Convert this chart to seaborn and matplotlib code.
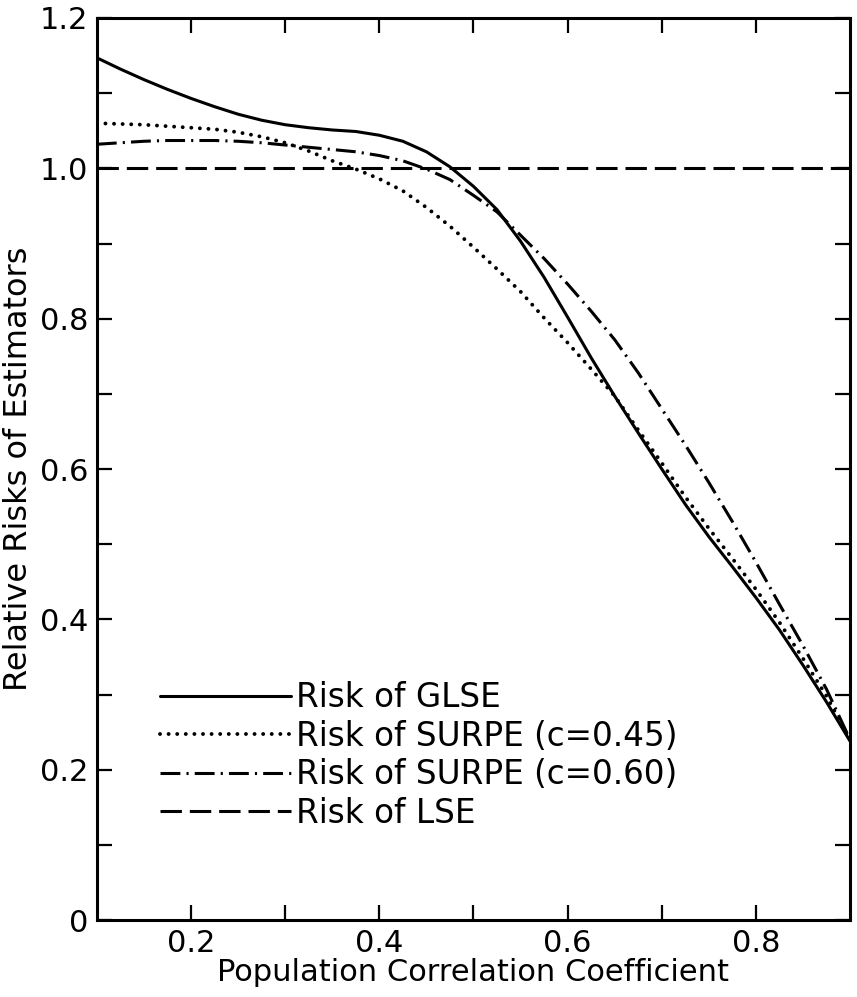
import matplotlib
matplotlib.use("Agg")
import matplotlib.pyplot as plt
import seaborn as sns
import pandas as pd
from matplotlib.ticker import MultipleLocator, FixedLocator, FuncFormatter

# Data
rho = [0.100, 0.125, 0.150, 0.175, 0.200, 0.225, 0.250, 0.275, 0.300, 0.325,
       0.350, 0.375, 0.400, 0.425, 0.450, 0.475, 0.500, 0.525, 0.550, 0.575,
       0.600, 0.625, 0.650, 0.675, 0.700, 0.725, 0.750, 0.775, 0.800, 0.825,
       0.850, 0.875, 0.900]

glse = [1.147, 1.132, 1.118, 1.105, 1.093, 1.082, 1.072, 1.064, 1.058, 1.054,
        1.051, 1.049, 1.044, 1.036, 1.022, 1.002, 0.976, 0.945, 0.903, 0.855,
        0.802, 0.748, 0.697, 0.648, 0.600, 0.553, 0.510, 0.470, 0.429, 0.386,
        0.339, 0.290, 0.238]

surpe_045 = [1.060, 1.059, 1.058, 1.056, 1.054, 1.052, 1.048, 1.042, 1.034, 1.023,
             1.010, 0.999, 0.986, 0.970, 0.948, 0.923, 0.895, 0.866, 0.836, 0.801,
             0.768, 0.733, 0.697, 0.652, 0.608, 0.563, 0.521, 0.481, 0.440, 0.396,
             0.348, 0.298, 0.239]

surpe_060 = [1.032, 1.034, 1.036, 1.037, 1.037, 1.037, 1.036, 1.034, 1.031, 1.028,
             1.025, 1.022, 1.017, 1.010, 0.999, 0.985, 0.964, 0.942, 0.911, 0.880,
             0.846, 0.810, 0.772, 0.728, 0.680, 0.632, 0.582, 0.530, 0.476, 0.420,
             0.365, 0.307, 0.240]

lse = [1.0] * len(rho)

labels = ['Risk of GLSE', 'Risk of SURPE (c=0.45)',
          'Risk of SURPE (c=0.60)', 'Risk of LSE']

sns.set_style('ticks')
plt.rcParams['font.family'] = ['DejaVu Sans']
for k in ['text.color', 'axes.labelcolor', 'xtick.color', 'ytick.color', 'axes.edgecolor']:
    plt.rcParams[k] = 'black'

fig = plt.figure(figsize=(8.57, 9.97), dpi=100)
ax = fig.add_axes([0.113, 0.077, 0.879, 0.905])

styles = ['-', (0, (0.01, 2.2)), (0, (6.5, 2.0, 0.7, 2.0)), (0, (7, 2.6))]
widths = [2.2, 2.8, 2.2, 2.2]
caps = ['butt', 'round', 'butt', 'butt']
for vals, lab, ls, lw, cap in zip([glse, surpe_045, surpe_060, lse], labels, styles, widths, caps):
    df = pd.DataFrame({'rho': rho, 'risk': vals})
    sns.lineplot(data=df, x='rho', y='risk', ax=ax, color='black',
                 linestyle=ls, linewidth=lw, label=lab, dash_capstyle=cap)

ax.set_xlim(0.1, 0.9)
ax.set_ylim(0, 1.2)
ax.xaxis.set_major_locator(FixedLocator([0.2, 0.4, 0.6, 0.8]))
ax.xaxis.set_minor_locator(FixedLocator([0.3, 0.5, 0.7]))
ax.yaxis.set_major_locator(MultipleLocator(0.2))
ax.yaxis.set_minor_locator(MultipleLocator(0.1))
ax.xaxis.set_major_formatter(FuncFormatter(lambda v, p: f'{v:.1f}'))
ax.yaxis.set_major_formatter(FuncFormatter(lambda v, p: '0' if abs(v) < 1e-9 else f'{v:.1f}'))

ax.tick_params(which='both', direction='in', top=True, right=True,
               length=11, width=1.6, labelsize=22, pad=6)
for s in ax.spines.values():
    s.set_linewidth(2.2)

ax.set_xlabel('Population Correlation Coefficient', fontsize=22, labelpad=0)
ax.set_ylabel('Relative Risks of Estimators', fontsize=23, labelpad=4)

leg = ax.legend(loc='upper left', bbox_to_anchor=(0.084, 0.265), frameon=False,
                fontsize=23.5, handlelength=4.0, handletextpad=0.15,
                labelspacing=0.17, borderpad=0, borderaxespad=0)

fig.savefig('out.png', dpi=100)
